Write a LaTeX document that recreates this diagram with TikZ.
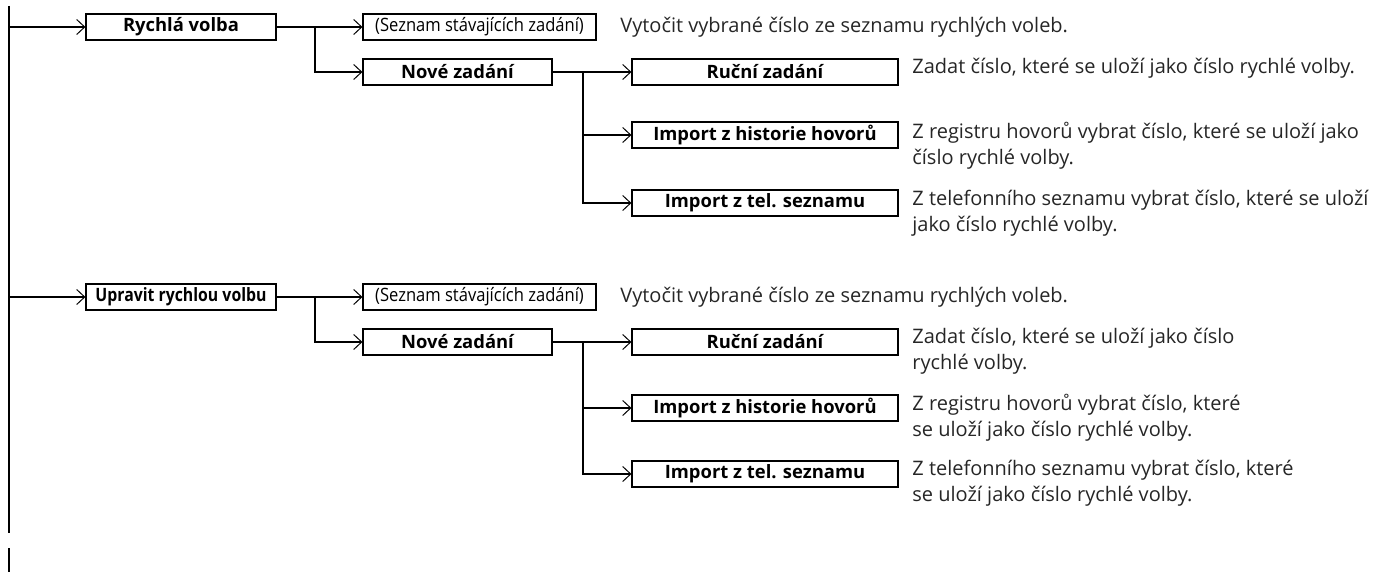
\documentclass[tikz,border=0pt]{standalone}
\usepackage{fontspec}
\setmainfont{Open Sans}
\usepackage{graphicx}
\usepackage{tikz}
\usetikzlibrary{arrows.meta, positioning, calc}

\newcommand{\narrow}[1]{\scalebox{0.86}[1]{#1}}
\newcommand{\listnarrow}[1]{\scalebox{0.9}[1]{#1}}

\tikzset{
    menubox/.style={draw, line width=0.6pt, inner sep=0pt, minimum height=13pt, font=\fontsize{9.2}{10}\selectfont\bfseries},
    topbox/.style={menubox, minimum width=95pt},
    listbox/.style={menubox, minimum width=116.5pt, font=\fontsize{9.2}{10}\selectfont},
    newbox/.style={menubox, minimum width=94.5pt},
    subbox/.style={menubox, minimum width=133pt},
    desc/.style={anchor=north west, inner sep=0pt, align=left, text=black!85, font=\fontsize{10}{13}\selectfont},
    link/.style={line width=1pt, -{Straight Barb[length=4pt, width=7.5pt, line width=0.5pt]}},
    trunk/.style={line width=1pt}
}

\begin{document}
\begin{tikzpicture}[x=0.5pt, y=-0.5pt]
    \useasboundingbox (0,0) rectangle (1384,572);

    % Trunk
    \coordinate (trunktop) at (9,6);
    \coordinate (trunkend) at (9,533);
    \coordinate (stubtop) at (9,548);
    \coordinate (stubend) at (9,572);
    \draw[trunk] (trunktop) -- (trunkend);
    \draw[trunk] (stubtop) -- (stubend);

    % Rychla volba
    \node[topbox] (rychla) at (181,27) {Rychlá volba};
    \node[listbox] (seznamA) at (479.5,27) {\listnarrow{(Seznam stávajících zadání)}};
    \node[newbox] (noveA) at (457.5,72) {Nové zadání};
    \node[subbox] (rucniA) at (765,72) {Ruční zadání};
    \node[subbox] (histA) at (765,135) {Import z historie hovorů};
    \node[subbox] (telA) at (765,203) {Import z tel. seznamu};

    \node[desc] (dseznamA) at (620,17) {Vytočit vybrané číslo ze seznamu rychlých voleb.};
    \node[desc] (drucniA) at (912,58) {Zadat číslo, které se uloží jako číslo rychlé volby.};
    \node[desc] (dhistA) at (912,122) {Z registru hovorů vybrat číslo, které se uloží jako\\číslo rychlé volby.};
    \node[desc] (dtelA) at (912,190) {Z telefonního seznamu vybrat číslo, které se uloží\\jako číslo rychlé volby.};

    \coordinate (forkA) at (315,27);
    \coordinate (subA) at (583,72);
    \draw[link] (rychla.west -| trunktop) -- (rychla.west);
    \draw[link] (rychla.east) -- (seznamA.west);
    \draw[link] (forkA) |- (noveA.west);
    \draw[link] (noveA.east) -- (rucniA.west);
    \draw[link] (subA) |- (histA.west);
    \draw[link] (subA) |- (telA.west);

    % Upravit rychlou volbu
    \node[topbox] (upravit) at (181,297) {\narrow{Upravit rychlou volbu}};
    \node[listbox] (seznamB) at (479.5,297) {\listnarrow{(Seznam stávajících zadání)}};
    \node[newbox] (noveB) at (457.5,342) {Nové zadání};
    \node[subbox] (rucniB) at (765,342) {Ruční zadání};
    \node[subbox] (histB) at (765,408) {Import z historie hovorů};
    \node[subbox] (telB) at (765,474) {Import z tel. seznamu};

    \node[desc] (dseznamB) at (620,287) {Vytočit vybrané číslo ze seznamu rychlých voleb.};
    \node[desc] (drucniB) at (912,328) {Zadat číslo, které se uloží jako číslo\\rychlé volby.};
    \node[desc] (dhistB) at (912,394) {Z registru hovorů vybrat číslo, které\\se uloží jako číslo rychlé volby.};
    \node[desc] (dtelB) at (912,460) {Z telefonního seznamu vybrat číslo, které\\se uloží jako číslo rychlé volby.};

    \coordinate (forkB) at (315,297);
    \coordinate (subB) at (583,342);
    \draw[link] (upravit.west -| trunktop) -- (upravit.west);
    \draw[link] (upravit.east) -- (seznamB.west);
    \draw[link] (forkB) |- (noveB.west);
    \draw[link] (noveB.east) -- (rucniB.west);
    \draw[link] (subB) |- (histB.west);
    \draw[link] (subB) |- (telB.west);
\end{tikzpicture}
\end{document}
